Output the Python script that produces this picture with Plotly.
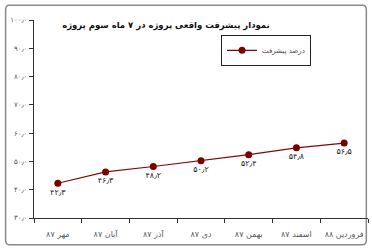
import plotly.graph_objects as go

categories = ["مهر ۸۷", "آبان ۸۷", "آذر ۸۷", "دی ۸۷", "بهمن ۸۷", "اسفند ۸۷", "فروردین ۸۸"]
values = [42.3, 46.3, 48.2, 50.2, 52.4, 54.8, 56.5]
value_labels = ["۴۲٫۳", "۴۶٫۳", "۴۸٫۲", "۵۰٫۲", "۵۲٫۴", "۵۴٫۸", "۵۶٫۵"]
y_ticks = [30, 40, 50, 60, 70, 80, 90, 100]
y_tick_labels = ["۳۰٫۰", "۴۰٫۰", "۵۰٫۰", "۶۰٫۰", "۷۰٫۰", "۸۰٫۰", "۹۰٫۰", "۱۰۰٫۰"]
series_name = "درصد پیشرفت"
title = "نمودار پیشرفت واقعی پروژه در ۷ ماه سوم پروژه"

FONT = "DejaVu Sans, sans-serif"

fig = go.Figure()
fig.add_trace(go.Scatter(
    x=categories, y=values, mode="lines+markers+text",
    name=series_name,
    line=dict(color="#7a0a0a", width=1.2),
    marker=dict(color="#7a0000", size=7, symbol="circle"),
    text=value_labels, textposition="bottom center",
    textfont=dict(size=8, color="#222222", family=FONT),
    cliponaxis=False,
))

fig.update_layout(
    width=372, height=251,
    margin=dict(l=34, r=4, t=20, b=33),
    paper_bgcolor="white", plot_bgcolor="white",
    showlegend=True,
    legend=dict(x=0.56, y=0.925, xanchor="left", yanchor="top",
                bgcolor="white", bordercolor="#222222", borderwidth=1,
                font=dict(size=7, color="#444444", family=FONT),
                itemwidth=30, entrywidth=80),
    title=dict(text="<b>" + title + "</b>", xref="paper", x=0.395, xanchor="center",
               y=0.9, yanchor="middle",
               font=dict(size=8.5, color="#111111", family=FONT)),
    xaxis=dict(type="category", showline=True, linecolor="#333333", linewidth=1,
               ticks="outside", tickson="boundaries", ticklen=4, tickcolor="#333333",
               tickangle=0, automargin=False, ticklabelstandoff=8,
               tickfont=dict(size=8, color="#555555", family=FONT),
               showgrid=False, zeroline=False, range=[-0.5, 6.5]),
    yaxis=dict(range=[30, 100], tickvals=y_ticks, ticktext=y_tick_labels,
               showline=True, linecolor="#333333", linewidth=1,
               ticks="outside", ticklen=4, tickcolor="#333333",
               tickangle=0, automargin=False,
               tickfont=dict(size=7, color="#555555", family=FONT),
               showgrid=False, zeroline=False),
)

# outer rounded frame
fig.add_shape(type="path", xref="paper", yref="paper", layer="below",
              path="M -0.075,1.075 L 0.985,1.075 Q 0.995,1.075 0.995,1.05 L 0.995,-0.11 Q 0.995,-0.135 0.985,-0.135 L -0.075,-0.135 Q -0.085,-0.135 -0.085,-0.11 L -0.085,1.05 Q -0.085,1.075 -0.075,1.075 Z",
              line=dict(color="#8a8a8a", width=1.5), fillcolor="rgba(0,0,0,0)")

fig.write_html("out.html")
